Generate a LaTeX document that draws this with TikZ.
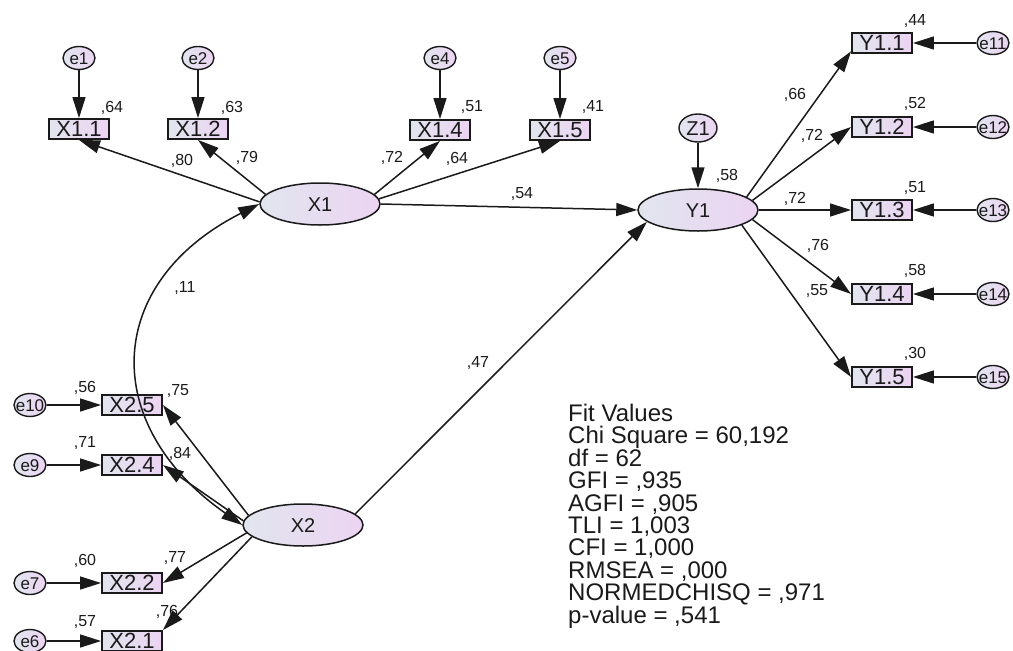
\documentclass[tikz,border=0pt]{standalone}
\usepackage{fontspec}
\setmainfont{Liberation Sans}
\usetikzlibrary{arrows.meta,shapes.geometric}
\definecolor{shL}{HTML}{E1E5EE}
\definecolor{shR}{HTML}{ECD4F2}
\definecolor{ink}{HTML}{1A1A1A}
\newcommand{\fs}[1]{\fontsize{#1}{#1}\selectfont}
\newcommand{\eL}[1]{\makebox[0pt]{#1}}
\tikzset{
  lat/.style={ellipse, draw=ink, line width=1.5pt, left color=shL, right color=shR,
    minimum width=120pt, minimum height=42pt, inner sep=0pt, font=\fs{20},
    text height=14.3pt, text depth=0pt, text=ink},
  obs/.style={rectangle, draw=ink, line width=1.9pt, left color=shL, right color=shR,
    minimum width=60pt, minimum height=20pt, inner sep=0pt, font=\fs{22},
    text height=15.7pt, text depth=0pt, text=ink},
  err/.style={ellipse, draw=ink, line width=1.4pt, left color=shL, right color=shR,
    minimum width=32pt, minimum height=23pt, inner sep=0pt, font=\fs{17},
    text height=12.2pt, text depth=0pt, text=ink},
  lbl/.style={inner sep=0pt, font=\fs{16}, text height=11.5pt, text depth=0pt, text=ink},
  pth/.style={draw=ink, line width=1.5pt, -{Triangle[length=21pt,width=13pt]}},
}
\begin{document}
\begin{tikzpicture}[x=1pt,y=-1pt]
\useasboundingbox (0,0) rectangle (1013,651);
% error terms top
\node[err] (e1) at (79,58) {\eL{e1}};
\node[err] (e2) at (198,58) {\eL{e2}};
\node[err] (e4) at (440,58) {\eL{e4}};
\node[err] (e5) at (560,58) {\eL{e5}};
% X1 indicators
\node[obs] (X11) at (79,129) {X1.1};
\node[obs] (X12) at (198,129) {X1.2};
\node[obs] (X14) at (440,130) {X1.4};
\node[obs] (X15) at (560,130) {X1.5};
% latents
\node[lat] (X1) at (320,204) {X1};
\node[lat] (Y1) at (698,210) {Y1};
\node[lat] (X2) at (303,525) {X2};
\node[err, minimum width=38pt, minimum height=28pt, font=\fs{20}, text height=14.3pt] (Z1) at (698,128) {Z1};
% Y1 indicators
\node[obs] (Y11) at (882,43) {Y1.1};
\node[obs] (Y12) at (882,127) {Y1.2};
\node[obs] (Y13) at (882,210) {Y1.3};
\node[obs] (Y14) at (882,294) {Y1.4};
\node[obs] (Y15) at (882,377) {Y1.5};
\node[err] (e11) at (993,43) {\eL{e11}};
\node[err] (e12) at (993,127) {\eL{e12}};
\node[err] (e13) at (993,210) {\eL{e13}};
\node[err] (e14) at (993,294) {\eL{e14}};
\node[err] (e15) at (993,377) {\eL{e15}};
% X2 indicators
\node[obs] (X25) at (132,405) {X2.5};
\node[obs] (X24) at (132,465) {X2.4};
\node[obs] (X22) at (132,583) {X2.2};
\node[obs] (X21) at (132,641) {X2.1};
\node[err] (e10) at (30,405) {\eL{e10}};
\node[err] (e9) at (30,465) {\eL{e9}};
\node[err] (e7) at (30,583) {\eL{e7}};
\node[err] (e6) at (30,641) {\eL{e6}};
% connectors
\draw[pth] (e1) -- (X11);
\draw[pth] (e2) -- (X12);
\draw[pth] (e4) -- (X14);
\draw[pth] (e5) -- (X15);
\draw[pth] (Z1) -- (Y1);
\draw[pth] (X1.178) -- (X11.south);
\draw[pth] (X1.170) -- (X12.south);
\draw[pth] (X1.10) -- (X14.south);
\draw[pth] (X1.5) -- (X15.south);
\draw[pth] (X1.east) -- (Y1.west);
\draw[pth] (Y1.15) -- (Y11.195);
\draw[pth] (Y1.10) -- (Y12.west);
\draw[pth] (Y1.east) -- (Y13.west);
\draw[pth] (Y1.350) -- (Y14.west);
\draw[pth] (Y1.341) -- (Y15.west);
\draw[pth] (e11) -- (Y11);
\draw[pth] (e12) -- (Y12);
\draw[pth] (e13) -- (Y13);
\draw[pth] (e14) -- (Y14);
\draw[pth] (e15) -- (Y15);
\draw[pth] (X2.170) -- (X25.east);
\draw[pth] (X2.176) -- (X24.east);
\draw[pth] (X2.188) -- (X22.east);
\draw[pth] (X2.193) -- (X21.north east);
\draw[pth] (X2.12) -- (Y1.193);
\draw[pth] (e10) -- (X25);
\draw[pth] (e9) -- (X24);
\draw[pth] (e7) -- (X22);
\draw[pth] (e6) -- (X21);
\draw[draw=ink, line width=1.5pt, {Triangle[length=21pt,width=13pt]}-{Triangle[length=21pt,width=13pt]}]
  (X2.west) .. controls +(-143,-100) and +(-156,79) .. (X1.west);
% labels
\node[lbl] (r1) at (112,107) {,64};
\node[lbl] (r2) at (232,107) {,63};
\node[lbl] (r4) at (472,106) {,51};
\node[lbl] (r5) at (593,106) {,41};
\node[lbl] (ry) at (727,175) {,58};
\node[lbl] (r11) at (915,20) {,44};
\node[lbl] (r12) at (915,103) {,52};
\node[lbl] (r13) at (915,187) {,51};
\node[lbl] (r14) at (915,270) {,58};
\node[lbl] (r15) at (915,353) {,30};
\node[lbl] (r25) at (85,387) {,56};
\node[lbl] (r24) at (85,442) {,71};
\node[lbl] (r22) at (85,560) {,60};
\node[lbl] (r21) at (85,621) {,57};
\node[lbl] (p11) at (182,160) {,80};
\node[lbl] (p12) at (247,157) {,79};
\node[lbl] (p14) at (392,157) {,72};
\node[lbl] (p15) at (457,158) {,64};
\node[lbl] (pxy) at (522,193) {,54};
\node[lbl] (py1) at (795,94) {,66};
\node[lbl] (py2) at (812,135) {,72};
\node[lbl] (py3) at (795,198) {,72};
\node[lbl] (py4) at (818,245) {,76};
\node[lbl] (py5) at (817,290) {,55};
\node[lbl] (pc) at (185,287) {,11};
\node[lbl] (p2y) at (478,362) {,47};
\node[lbl] (p25) at (178,390) {,75};
\node[lbl] (p24) at (180,453) {,84};
\node[lbl] (p22) at (175,557) {,77};
\node[lbl] (p21) at (167,611) {,76};
% fit values
\node[anchor=north west, inner sep=0pt, align=left, text=ink,
      font=\fontsize{24}{22.4}\selectfont] (fit) at (568,404)
  {Fit Values\\Chi Square = 60,192\\df = 62\\GFI = ,935\\AGFI = ,905\\TLI = 1,003\\CFI = 1,000\\RMSEA = ,000\\NORMEDCHISQ = ,971\\p-value = ,541};
\end{tikzpicture}
\end{document}
